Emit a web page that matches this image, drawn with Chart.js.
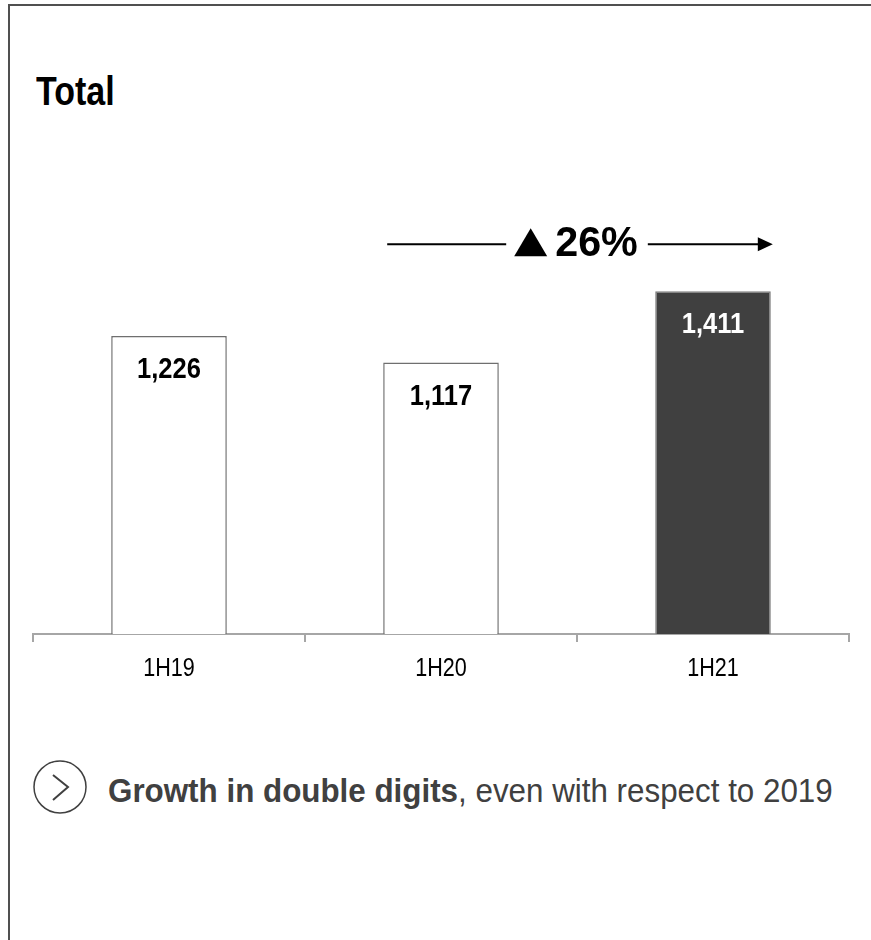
<!DOCTYPE html>
<html>
<head>
<meta charset="utf-8">
<script src="https://cdn.jsdelivr.net/npm/chart.js@4.4.1/dist/chart.umd.min.js"></script>
<style>
  html, body { margin: 0; padding: 0; background: #fff; }
  body { width: 871px; height: 940px; position: relative; overflow: hidden;
         font-family: "Liberation Sans", Arial, sans-serif; }
  #frame { position: absolute; left: 8px; top: 4px; width: 900px; height: 960px;
           border-left: 2px solid #505050; border-top: 2px solid #505050; }
  #title { position: absolute; left: 36px; top: 71px; font-size: 40px; line-height: 1;
           font-weight: bold; color: #000; transform: scaleX(0.85); transform-origin: 0 0; }
  #chartBox { position: absolute; left: 0; top: 0; width: 871px; height: 700px; }
  #note { position: absolute; left: 108px; top: 774px; font-size: 33px; line-height: 1;
          color: #404040; white-space: nowrap; transform: scaleX(0.95); transform-origin: 0 0; }
  #icon { position: absolute; left: 33px; top: 760px; }
</style>
</head>
<body>
<div id="frame"></div>
<div id="title">Total</div>
<div id="chartBox"><canvas id="chart" width="871" height="700"></canvas></div>
<svg id="icon" width="56" height="56" viewBox="0 0 56 56">
  <circle cx="27" cy="27" r="26" fill="none" stroke="#404040" stroke-width="1.5"/>
  <polyline points="20,15 35,27 20,40" fill="none" stroke="#404040" stroke-width="2"/>
</svg>
<div id="note"><b>Growth in double digits</b>, even with respect to 2019</div>
<script>
const categories = ['1H19', '1H20', '1H21'];
const totals = [1226, 1117, 1411];
const barColors = ['#ffffff', '#ffffff', '#404040'];
const borderColors = ['#6f6f6f', '#6f6f6f', '#7f7f7f'];
const labelColors = ['#000000', '#000000', '#ffffff'];

const sans = '"Liberation Sans", Arial, sans-serif';

// texto estreito (simula Arial Narrow)
function narrowText(ctx, text, x, y, sx) {
    ctx.save();
    ctx.translate(x, y);
    ctx.scale(sx, 1);
    ctx.fillText(text, 0, 0);
    ctx.restore();
}

// valores dentro das barras
const barLabels = {
    id: 'barLabels',
    afterDatasetsDraw(chart) {
        const ctx = chart.ctx;
        const meta = chart.getDatasetMeta(0);
        ctx.save();
        ctx.font = 'bold 29px ' + sans;
        ctx.textAlign = 'center';
        ctx.textBaseline = 'alphabetic';
        meta.data.forEach((bar, i) => {
            ctx.fillStyle = labelColors[i];
            narrowText(ctx, totals[i].toLocaleString('en-US'), bar.x, bar.y + 42, 0.88);
        });
        ctx.restore();
    }
};

// rótulos das categorias
const catLabels = {
    id: 'catLabels',
    afterDraw(chart) {
        const ctx = chart.ctx;
        const xs = chart.scales.x;
        ctx.save();
        ctx.font = '26px ' + sans;
        ctx.fillStyle = '#000';
        ctx.textAlign = 'center';
        ctx.textBaseline = 'alphabetic';
        categories.forEach((c, i) => {
            narrowText(ctx, c, xs.getPixelForValue(i), xs.top + 42, 0.83);
        });
        ctx.restore();
    }
};

// seta de crescimento 1H20 -> 1H21
const growthArrow = {
    id: 'growthArrow',
    afterDatasetsDraw(chart) {
        const ctx = chart.ctx;
        const meta = chart.getDatasetMeta(0);
        const b1 = meta.data[1], b2 = meta.data[2];
        const x0 = b1.x - b1.width / 2 + 4;
        const x1 = b2.x + b2.width / 2 + 2;
        const y = b2.y - 47;
        const pct = Math.round((totals[2] / totals[1] - 1) * 100) + '%';
        ctx.save();
        ctx.font = 'bold 43px ' + sans;
        const sx = 0.96;
        const tw = ctx.measureText(pct).width * sx;
        const triW = 33, gap = 8;
        const groupW = triW + gap + tw;
        const mid = (x0 + x1) / 2 - 4;
        const gx = mid - groupW / 2;
        // linhas
        ctx.strokeStyle = '#000';
        ctx.lineWidth = 2;
        ctx.beginPath();
        ctx.moveTo(x0, y);
        ctx.lineTo(gx - 8, y);
        ctx.moveTo(gx + groupW + 10, y);
        ctx.lineTo(x1 - 14, y);
        ctx.stroke();
        // ponta da seta
        ctx.fillStyle = '#000';
        ctx.beginPath();
        ctx.moveTo(x1, y);
        ctx.lineTo(x1 - 15, y - 7);
        ctx.lineTo(x1 - 15, y + 7);
        ctx.closePath();
        ctx.fill();
        // triângulo
        ctx.beginPath();
        ctx.moveTo(gx + triW / 2, y - 16);
        ctx.lineTo(gx + triW, y + 12);
        ctx.lineTo(gx, y + 12);
        ctx.closePath();
        ctx.fill();
        ctx.textAlign = 'left';
        ctx.textBaseline = 'alphabetic';
        narrowText(ctx, pct, gx + triW + gap, y + 12, sx);
        ctx.restore();
    }
};

new Chart(document.getElementById('chart'), {
    type: 'bar',
    data: {
        labels: categories,
        datasets: [{
            data: totals,
            backgroundColor: barColors,
            borderColor: borderColors,
            borderWidth: 1.5,
            barPercentage: 0.85,
            categoryPercentage: 0.5
        }]
    },
    options: {
        responsive: false,
        animation: false,
        layout: { padding: { left: 33, right: 22, top: 148, bottom: 12 } },
        plugins: { legend: { display: false }, tooltip: { enabled: false } },
        scales: {
            y: { display: false, min: 0, max: 2000 },
            x: {
                border: { display: true, color: '#a6a6a6', width: 2 },
                grid: { display: true, drawOnChartArea: false, drawTicks: true, tickLength: 8,
                        color: '#a6a6a6', lineWidth: 2, offset: true },
                ticks: { color: 'rgba(0,0,0,0)', padding: 8, font: { family: sans, size: 25 } }
            }
        }
    },
    plugins: [barLabels, catLabels, growthArrow]
});
</script>
</body>
</html>
